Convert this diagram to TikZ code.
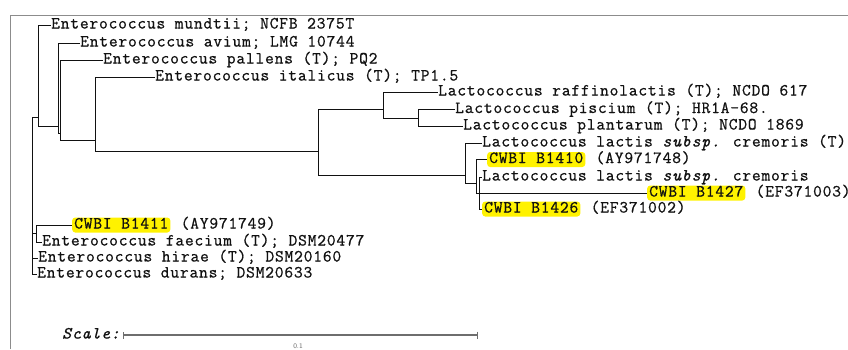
\documentclass[tikz,border=0pt]{standalone}
\usepackage{fontspec}
\usetikzlibrary{arrows.meta, positioning, calc}
\newfontfamily\treefont{Latin Modern Mono}[LetterSpace=4.8, FakeBold=0.8]
\definecolor{ink}{HTML}{111111}
\definecolor{hilite}{HTML}{FFF200}
\definecolor{framegray}{HTML}{8C8C8C}
\definecolor{muted}{HTML}{6E6E6E}
\tikzset{
  leaf/.style={
    anchor=west, inner sep=0pt,
    text height=9.5pt, text depth=2.5pt,
    font=\treefont\fontsize{17}{17}\selectfont, text=ink
  },
  strain/.style={leaf, fill=hilite, rounded corners=3pt, inner xsep=2pt, inner ysep=1.5pt},
  acc/.style={leaf, anchor=base west},
  branch/.style={draw=ink, line width=0.9pt},
  scalebar/.style={{Bar[width=7pt]}-{Bar[width=7pt]}, draw=muted, line width=1.4pt},
}

\begin{document}
\begin{tikzpicture}[x=1pt, y=-1pt]
  \useasboundingbox (0,0) rectangle (848,349);
  \draw[framegray, line width=1pt] (10,349) |- (848,15);

  % leaves
  \node[leaf] (mundtii)   at (51,25)  {Enterococcus mundtii; NCFB 2375T};
  \node[leaf] (avium)     at (80,43)  {Enterococcus avium; LMG 10744};
  \node[leaf] (pallens)   at (103,60) {Enterococcus pallens (T); PQ2};
  \node[leaf] (italicus)  at (155,77) {Enterococcus italicus (T); TP1.5};
  \node[leaf] (raffino)   at (438,92) {Lactococcus raffinolactis (T); NCDO 617};
  \node[leaf] (piscium)   at (455,109.5) {Lactococcus piscium (T); HR1A-68.};
  \node[leaf] (plantarum) at (463,126) {Lactococcus plantarum (T); NCDO 1869};
  \node[leaf] (cremT)     at (482,143) {Lactococcus lactis {\itshape subsp.} cremoris (T)};
  \node[strain] (b1410)   at (487,159.5) {CWBI B1410};
  \node[leaf] (crem)      at (482,177) {Lactococcus lactis {\itshape subsp.} cremoris};
  \node[strain] (b1427)   at (647,193) {CWBI B1427};
  \node[strain] (b1426)   at (482,209) {CWBI B1426};
  \node[strain] (b1411)   at (72,225)  {CWBI B1411};
  \node[leaf] (faecium)   at (42,242) {Enterococcus faecium (T); DSM20477};
  \node[leaf] (hirae)     at (38,258) {Enterococcus hirae (T); DSM20160};
  \node[leaf] (durans)    at (37,274) {Enterococcus durans; DSM20633};

  \node[acc] (acc1410) at ([xshift=10pt]b1410.base east) {(AY971748)};
  \node[acc] (acc1427) at ([xshift=10pt]b1427.base east) {(EF371003)};
  \node[acc] (acc1426) at ([xshift=10pt]b1426.base east) {(EF371002)};
  \node[acc] (acc1411) at ([xshift=10pt]b1411.base east) {(AY971749)};

  % internal nodes
  \coordinate (root) at (32.5,195);
  \coordinate (nA) at (38,117);
  \coordinate (nB) at (58,126);
  \coordinate (nC) at (60,133);
  \coordinate (nD) at (95,140);
  \coordinate (nE) at (318,151);
  \coordinate (nF) at (383,109);
  \coordinate (nH) at (418,118);
  \coordinate (nG) at (465,175);
  \coordinate (nI) at (476,183);
  \coordinate (nJ) at (479,193);
  \coordinate (nK) at (36,233);

  \draw[branch] (root) |- (nA) (root) |- (nK) (root) |- (hirae.west) (root) |- (durans.west);
  \draw[branch] (nA) |- (mundtii.west) (nA) |- (nB);
  \draw[branch] (nB) |- (avium.west) (nB) |- (nC);
  \draw[branch] (nC) |- (pallens.west) (nC) |- (nD);
  \draw[branch] (nD) |- (italicus.west) (nD) |- (nE);
  \draw[branch] (nE) |- (nF) (nE) |- (nG);
  \draw[branch] (nF) |- (raffino.west) (nF) |- (nH);
  \draw[branch] (nH) |- (piscium.west) (nH) |- (plantarum.west);
  \draw[branch] (nG) |- (cremT.west) (nG) |- (nI);
  \draw[branch] (nI) |- (b1410.west) (nI) |- (nJ);
  \draw[branch] (nJ) |- (crem.west) (nJ) |- (b1427.west) (nJ) |- (b1426.west);
  \draw[branch] (nK) |- (b1411.west) (nK) |- (faecium.west);

  % scale
  \node[leaf, font=\treefont\itshape\fontsize{17}{17}\selectfont] (scalelbl) at (62,335) {Scale:};
  \coordinate (scaleL) at (123,335);
  \coordinate (scaleR) at (478,335);
  \draw[scalebar] (scaleL) -- (scaleR);
  \node[font=\sffamily\fontsize{7}{7}\selectfont, text=muted, inner sep=0pt] (scaleval) at (298,346) {0.1};
\end{tikzpicture}
\end{document}
